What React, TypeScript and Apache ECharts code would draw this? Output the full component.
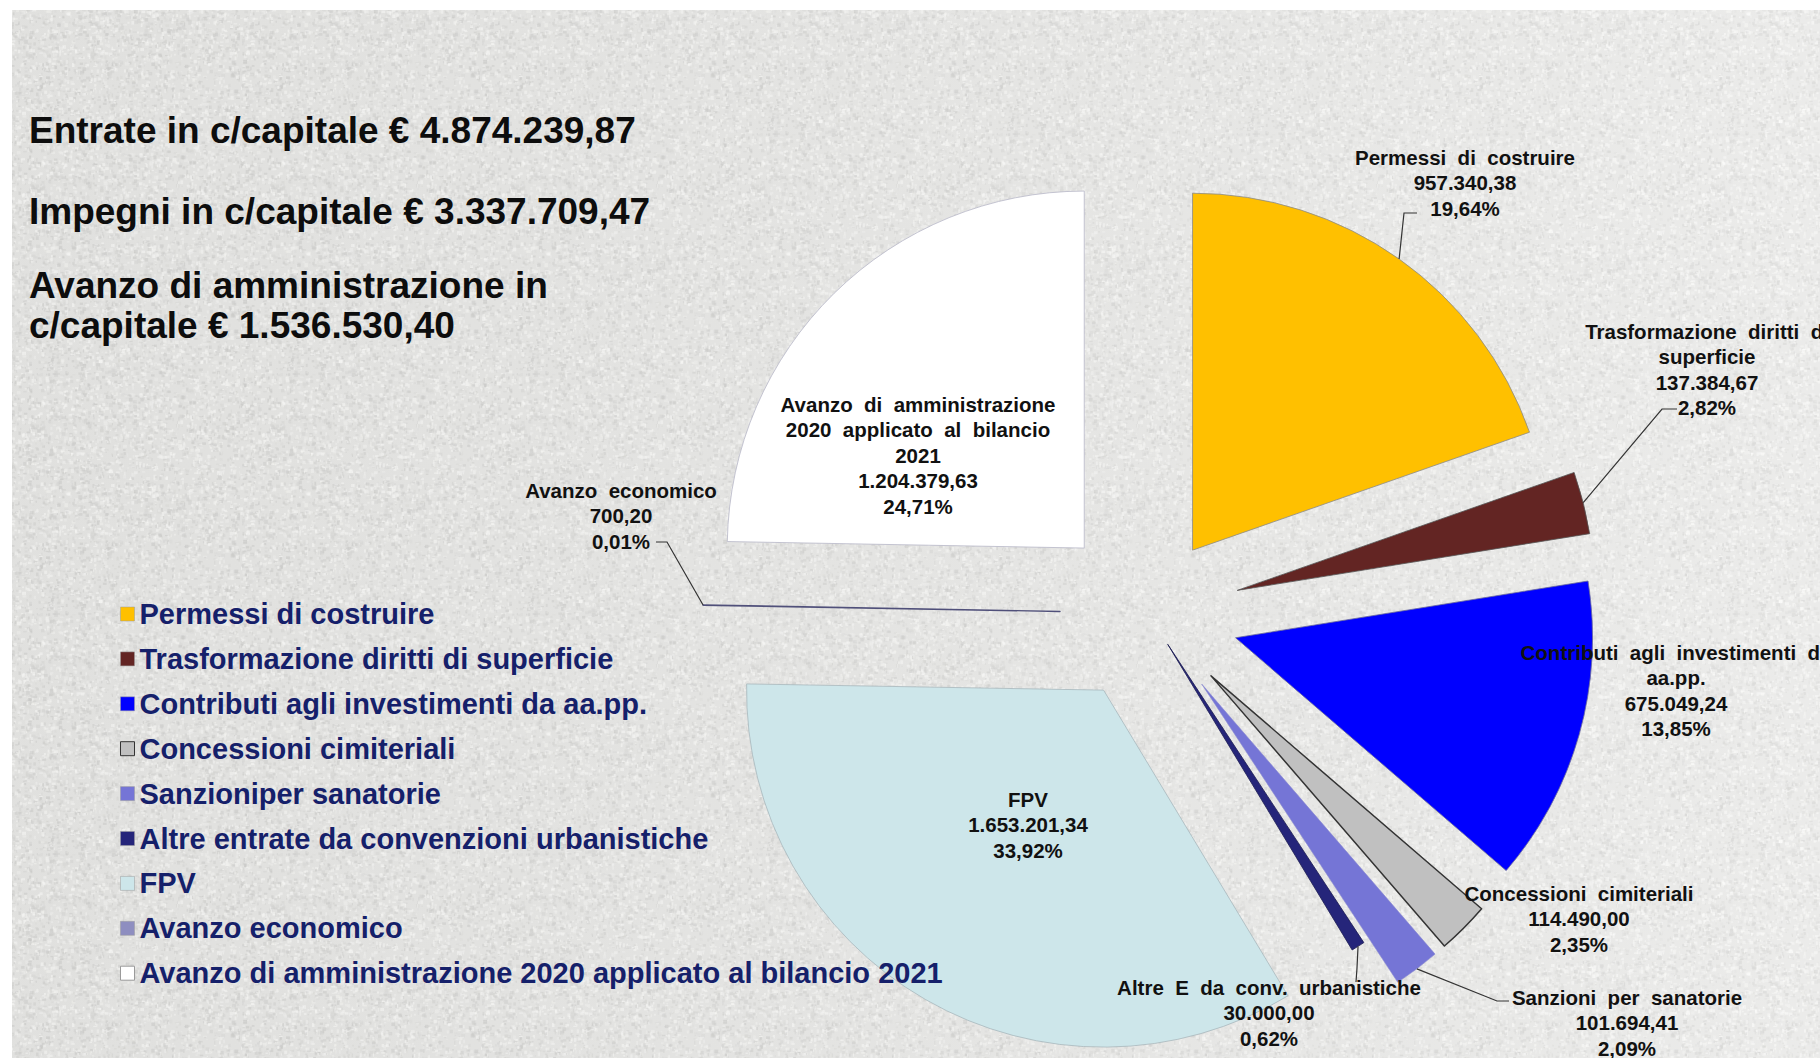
import React, { useEffect, useRef } from "react";
import * as echarts from "echarts";

// ---------- data ----------
const categories: string[] = [
  "Permessi di costruire",
  "Trasformazione diritti di superficie",
  "Contributi agli investimenti da aa.pp.",
  "Concessioni cimiteriali",
  "Sanzioniper sanatorie",
  "Altre entrate da convenzioni urbanistiche",
  "FPV",
  "Avanzo economico",
  "Avanzo di amministrazione 2020 applicato al bilancio 2021",
];

const labelNames: string[] = [
  "Permessi  di  costruire",
  "Trasformazione  diritti  di\nsuperficie",
  "Contributi  agli  investimenti  da\naa.pp.",
  "Concessioni  cimiteriali",
  "Sanzioni  per  sanatorie",
  "Altre  E  da  conv.  urbanistiche",
  "FPV",
  "Avanzo  economico",
  "Avanzo  di  amministrazione\n2020  applicato  al  bilancio\n2021",
];

const values: number[] = [
  957340.38, 137384.67, 675049.24, 114490.0, 101694.41, 30000.0, 1653201.34, 700.2, 1204379.63,
];

const impegni = 3337709.47;

// ---------- styles / layout ----------
const colors = ["#FFC000", "#632523", "#0000FF", "#C0C0C0", "#7575D6", "#25257A", "#CDE6EA", "#8E8EC0", "#FFFFFF"];
const borderColors = ["#8a8a8a", "#555", "#6a6a9a", "#333333", "#8a8ad0", "#1a1a50", "#a8b8bc", "#50507a", "#b8b8c8"];
const borderWidths = [0.8, 0.8, 0.8, 1.5, 0.6, 0.8, 0.8, 1.4, 0.8];
// explosion distance of each slice, px
const explode = [77, 92, 91, 89, 89, 37, 89, 88, 91];

const FONT = "'Liberation Sans', Arial, Helvetica, sans-serif";
const CENTER = [1148, 613];
const RADIUS = 357;
const LABEL_LH = 25.5;

// label boxes: x = centre, y = centre of first line; line = elbow + end points of the leader
const labelBoxes: { x: number; y: number; line?: number[][] }[] = [
  { x: 1465, y: 157, line: [[1404, 213], [1417, 213]] },
  { x: 1707, y: 331, line: [[1662, 409], [1677, 409]] },
  { x: 1676, y: 652 },
  { x: 1579, y: 893 },
  { x: 1627, y: 997, line: [[1497, 1001], [1509, 1001]] },
  { x: 1269, y: 987, line: [[1357, 968], [1356, 982]] },
  { x: 1028, y: 799 },
  { x: 621, y: 490, line: [[667, 542], [656, 542]] },
  { x: 918, y: 404 },
];

const total = values.reduce((a, b) => a + b, 0);

function fmtNum(n: number): string {
  const [i, d] = n.toFixed(2).split(".");
  return i.replace(/\B(?=(\d{3})+(?!\d))/g, ".") + "," + d;
}
function fmtPct(v: number): string {
  return ((v / total) * 100).toFixed(2).replace(".", ",") + "%";
}
function arcPoint(i: number, off: number): number[] {
  const before = values.slice(0, i).reduce((a, b) => a + b, 0);
  const theta = ((before + values[i] / 2) / total) * 2 * Math.PI;
  return [CENTER[0] + (RADIUS + off) * Math.sin(theta), CENTER[1] - (RADIUS + off) * Math.cos(theta)];
}

function makeData(visible: (i: number) => boolean) {
  return values.map((v, i) => {
    const vis = visible(i);
    return {
      value: v,
      name: categories[i],
      selected: vis,
      itemStyle: vis
        ? { color: colors[i], borderColor: borderColors[i], borderWidth: borderWidths[i] }
        : { color: "rgba(0,0,0,0)", borderWidth: 0 },
    };
  });
}

// granite-like speckled paper texture (deterministic)
function makeTexture(): HTMLCanvasElement {
  const size = 240;
  const c = document.createElement("canvas");
  c.width = size;
  c.height = size;
  const ctx = c.getContext("2d")!;
  ctx.fillStyle = "#e3e3e1";
  ctx.fillRect(0, 0, size, size);
  let s = 12345;
  const rnd = () => {
    s = (s * 1103515245 + 12345) & 0x7fffffff;
    return s / 0x7fffffff;
  };
  for (let k = 0; k < 5200; k++) {
    const x = rnd() * size;
    const y = rnd() * size;
    const w = 1 + rnd() * 3;
    const h = 1 + rnd() * 3;
    const g = rnd() < 0.5 ? Math.round(195 + rnd() * 25) : Math.round(238 + rnd() * 17);
    ctx.fillStyle = `rgba(${g},${g},${g - 2},0.55)`;
    ctx.fillRect(x, y, w, h);
  }
  return c;
}

export default function App() {
  const ref = useRef<HTMLDivElement>(null);
  useEffect(() => {
    if (!ref.current) return;
    const chart = echarts.init(ref.current, undefined, { renderer: "svg" });
    const titleStyle = { fontFamily: FONT, fontWeight: "bold" as const, fontSize: 37, color: "#0d0d0d", lineHeight: 42 };

    const uniqueOffsets = Array.from(new Set(explode));
    const pieSeries = uniqueOffsets.map((off) => ({
      type: "pie",
      name: "pie" + off,
      center: CENTER,
      radius: RADIUS,
      startAngle: 90,
      clockwise: true,
      selectedMode: "multiple",
      selectedOffset: off,
      avoidLabelOverlap: false,
      legendHoverLink: false,
      silent: true,
      emphasis: { disabled: true },
      label: { show: false },
      labelLine: { show: false },
      data: makeData((i) => explode[i] === off),
    }));

    const labelTexts = values.map((v, i) => {
      const b = labelBoxes[i];
      return {
        type: "text",
        z: 50,
        silent: true,
        x: b.x,
        y: b.y - LABEL_LH / 2,
        style: {
          text: `${labelNames[i]}\n${fmtNum(v)}\n${fmtPct(v)}`,
          fontFamily: FONT,
          fontWeight: "bold",
          fontSize: 20.5,
          lineHeight: LABEL_LH,
          fill: "#111",
          align: "center",
          verticalAlign: "top",
        },
      };
    });
    const leaderLines = values
      .map((v, i) => {
        const b = labelBoxes[i];
        if (!b.line) return null;
        return {
          type: "polyline",
          z: 40,
          silent: true,
          shape: { points: [arcPoint(i, explode[i]), ...b.line] },
          style: { stroke: "#333", lineWidth: 1.2, fill: "none" },
        };
      })
      .filter(Boolean);

    chart.setOption({
      animation: false,
      backgroundColor: "#ffffff",
      graphic: [
        {
          type: "rect",
          z: -100,
          silent: true,
          shape: { x: 12, y: 10, width: 1808, height: 1048 },
          style: { fill: { image: makeTexture(), repeat: "repeat" } as any },
        },
        {
          type: "rect",
          z: -99,
          silent: true,
          shape: { x: 12, y: 10, width: 1808, height: 1048 },
          style: {
            fill: new echarts.graphic.LinearGradient(0, 0, 1, 0, [
              { offset: 0, color: "rgba(210,210,208,0.15)" },
              { offset: 1, color: "rgba(255,255,255,0.3)" },
            ]),
          },
        },
        ...leaderLines,
        ...labelTexts,
      ],
      title: [
        { text: `Entrate in c/capitale € ${fmtNum(total)}`, left: 29, top: 109, padding: 0, textStyle: titleStyle },
        { text: `Impegni in c/capitale € ${fmtNum(impegni)}`, left: 29, top: 190, padding: 0, textStyle: titleStyle },
        {
          text: `Avanzo di amministrazione in\nc/capitale € ${fmtNum(total - impegni)}`,
          left: 29,
          top: 265,
          padding: 0,
          textStyle: { ...titleStyle, lineHeight: 40.5 },
        },
      ],
      legend: {
        orient: "vertical",
        left: 120,
        top: 599,
        padding: 0,
        itemWidth: 14,
        itemHeight: 14,
        itemGap: 14.9,
        icon: "rect",
        selectedMode: false,
        textStyle: { fontFamily: FONT, fontWeight: "bold", fontSize: 29, lineHeight: 30, color: "#15206a" },
        data: categories.map((n, i) => ({
          name: n,
          itemStyle: { color: colors[i], borderColor: i === 3 ? "#333" : "#9a9a9a", borderWidth: i === 3 || i === 8 ? 1 : 0.5 },
        })),
      },
      series: pieSeries,
    });
    return () => chart.dispose();
  }, []);
  return <div ref={ref} style={{ position: "fixed", left: 0, top: 0, width: 1820, height: 1058 }} />;
}
